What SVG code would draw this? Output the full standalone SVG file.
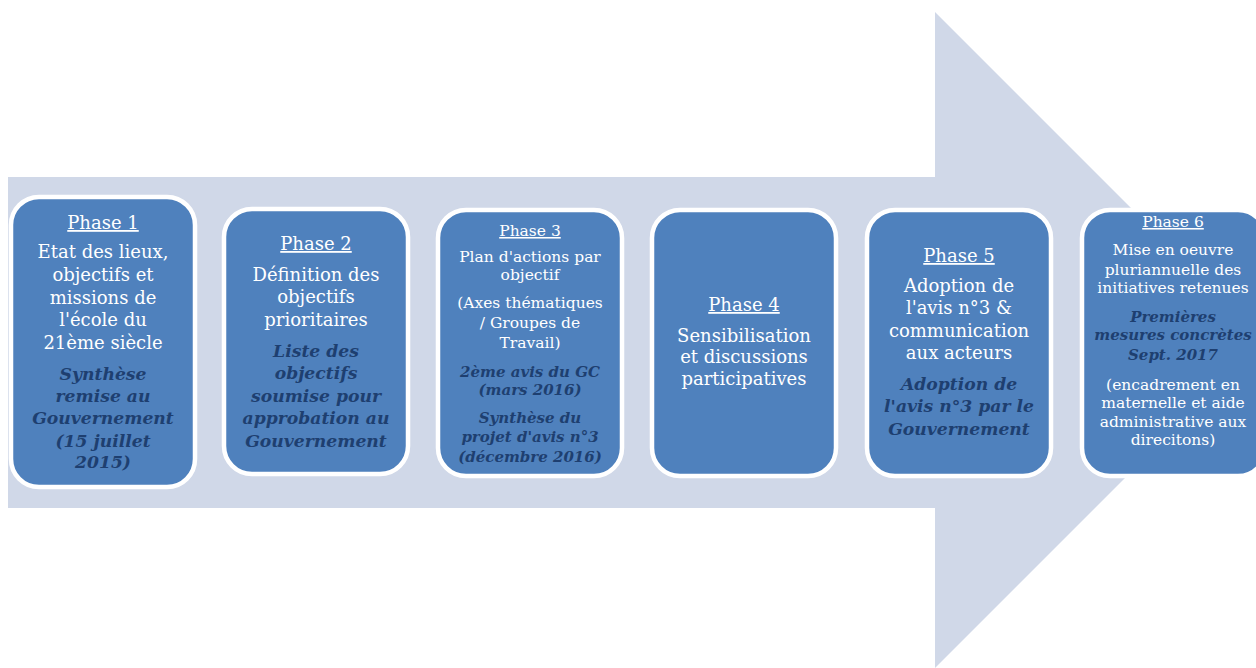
<svg xmlns="http://www.w3.org/2000/svg" width="1256" height="668" viewBox="0 0 1256 668">
<style>
.box{fill:#4f81bd;stroke:#ffffff;stroke-width:4.5}
.t{font-family:"DejaVu Serif","Liberation Serif",serif;fill:#ffffff;text-anchor:middle}
.b{font-size:18px}
.s{font-size:15.5px}
.h{text-decoration:underline}
.i{font-family:"DejaVu Serif","Liberation Serif",serif;fill:#1e3f70;font-weight:bold;font-style:italic;text-anchor:middle}
.ib{font-size:17.2px}
.is{font-size:15px}
</style>
<rect width="1256" height="668" fill="#ffffff"/>
<g id="arrow">
<polygon points="8,177 935,177 935,12 1263,340 935,668 935,508 8,508" fill="#d0d8e8"/>
</g>
<g id="connectors"></g>
<g id="phase1">
<rect class="box" x="11" y="197" width="184" height="290" rx="28"/>
<text class="t b h" x="103" y="229">Phase 1</text>
<text class="t b" x="103" y="258">Etat des lieux,</text>
<text class="t b" x="103" y="281">objectifs et</text>
<text class="t b" x="103" y="304">missions de</text>
<text class="t b" x="103" y="326">l'école du</text>
<text class="t b" x="103" y="349">21ème siècle</text>
<text class="i ib" x="103" y="380">Synthèse</text>
<text class="i ib" x="103" y="402">remise au</text>
<text class="i ib" x="103" y="424">Gouvernement</text>
<text class="i ib" x="103" y="447">(15 juillet</text>
<text class="i ib" x="103" y="468">2015)</text>
</g>
<g id="phase2">
<rect class="box" x="224" y="209" width="184" height="265" rx="28"/>
<text class="t b h" x="316" y="250">Phase 2</text>
<text class="t b" x="316" y="281">Définition des</text>
<text class="t b" x="316" y="303">objectifs</text>
<text class="t b" x="316" y="326">prioritaires</text>
<text class="i ib" x="316" y="357">Liste des</text>
<text class="i ib" x="316" y="379">objectifs</text>
<text class="i ib" x="316" y="402">soumise pour</text>
<text class="i ib" x="316" y="424">approbation au</text>
<text class="i ib" x="316" y="447">Gouvernement</text>
</g>
<g id="phase3">
<rect class="box" x="438" y="210" width="184" height="266" rx="28"/>
<text class="t s h" x="530" y="236">Phase 3</text>
<text class="t s" x="530" y="262">Plan d'actions par</text>
<text class="t s" x="530" y="280">objectif</text>
<text class="t s" x="530" y="308">(Axes thématiques</text>
<text class="t s" x="530" y="328">/ Groupes de</text>
<text class="t s" x="530" y="348">Travail)</text>
<text class="i is" x="530" y="377">2ème avis du GC</text>
<text class="i is" x="530" y="395">(mars 2016)</text>
<text class="i is" x="530" y="423">Synthèse du</text>
<text class="i is" x="530" y="442">projet d'avis n°3</text>
<text class="i is" x="530" y="462">(décembre 2016)</text>
</g>
<g id="phase4">
<rect class="box" x="652" y="210" width="184" height="266" rx="28"/>
<text class="t b h" x="744" y="311">Phase 4</text>
<text class="t b" x="744" y="342">Sensibilisation</text>
<text class="t b" x="744" y="363">et discussions</text>
<text class="t b" x="744" y="385">participatives</text>
</g>
<g id="phase5">
<rect class="box" x="867" y="210" width="184" height="266" rx="28"/>
<text class="t b h" x="959" y="262">Phase 5</text>
<text class="t b" x="959" y="292">Adoption de</text>
<text class="t b" x="959" y="314">l'avis n°3 &amp;</text>
<text class="t b" x="959" y="337">communication</text>
<text class="t b" x="959" y="359">aux acteurs</text>
<text class="i ib" x="959" y="390">Adoption de</text>
<text class="i ib" x="959" y="412">l'avis n°3 par le</text>
<text class="i ib" x="959" y="435">Gouvernement</text>
</g>
<g id="phase6">
<rect class="box" x="1082" y="210" width="184" height="266" rx="28"/>
<text class="t s h" x="1173" y="227">Phase 6</text>
<text class="t s" x="1173" y="255">Mise en oeuvre</text>
<text class="t s" x="1173" y="275">pluriannuelle des</text>
<text class="t s" x="1173" y="293">initiatives retenues</text>
<text class="i is" x="1173" y="322">Premières</text>
<text class="i is" x="1173" y="340">mesures concrètes</text>
<text class="i is" x="1173" y="360">Sept. 2017</text>
<text class="t s" x="1173" y="390">(encadrement en</text>
<text class="t s" x="1173" y="408">maternelle et aide</text>
<text class="t s" x="1173" y="427">administrative aux</text>
<text class="t s" x="1173" y="445">direcitons)</text>
</g>
</svg>
